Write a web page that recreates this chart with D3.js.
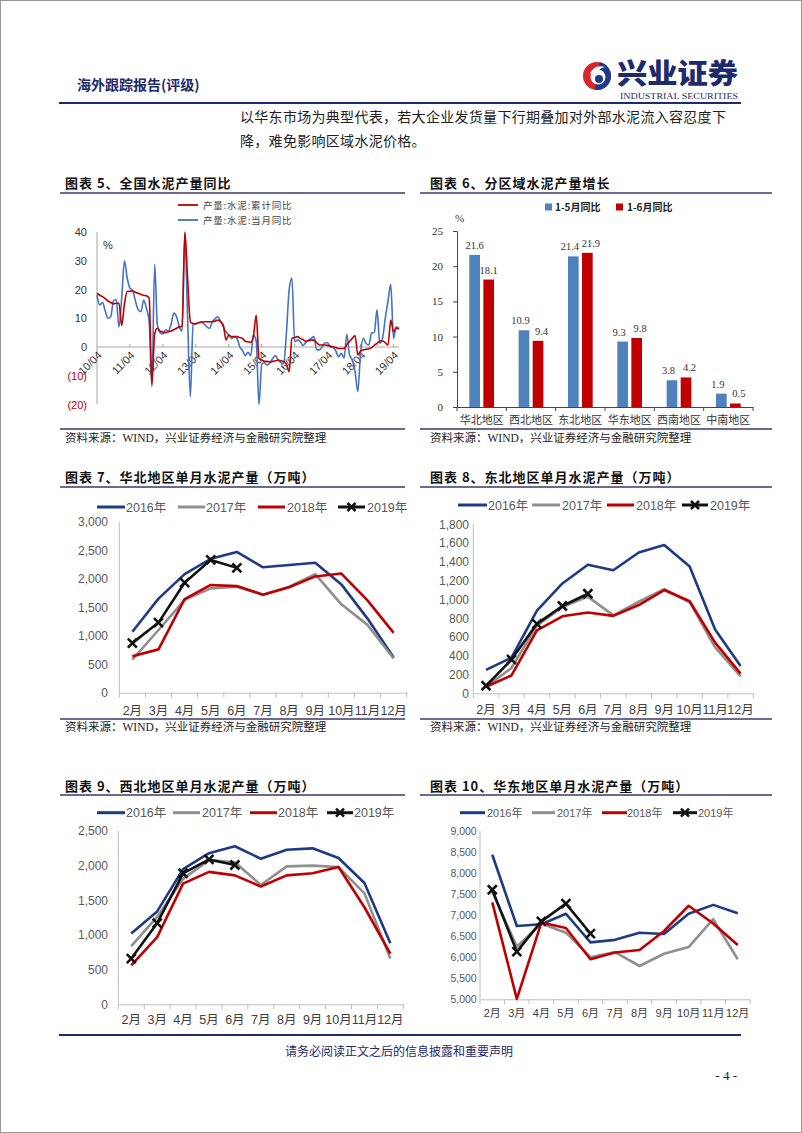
<!DOCTYPE html>
<html><head><meta charset="utf-8">
<script src="https://cdn.jsdelivr.net/npm/d3@7"></script>
<style>body{margin:0;background:#fff} svg{display:block}</style>
</head><body>
<svg id="page" width="802" height="1133"></svg>
<script>
// ---------------- DATA ----------------
// Chart 5: national cement output YoY (%), monthly 2010/04 .. 2019/06
const natTickLabels = ["10/04","11/04","12/04","13/04","14/04","15/04","16/04","17/04","18/04","19/04"];
const natSeriesNames = ["产量:水泥:累计同比","产量:水泥:当月同比"];
const natCum = [18.7,18,17.5,16.8,16,15.5,15,15.2,15.2,7.5,15,19.3,19.4,19.5,19,18.7,18.3,18,17.8,17,
  -13,4.5,6.5,5.5,5.2,5,5.3,5.6,6,6.5,7,7.2,40,24,8.8,8.2,8,8.4,8.6,8.8,
  8.8,8.8,8.8,9,9.4,8.8,7.6,2.4,4.2,3.6,3.6,3.6,3.3,3,2,1.8,1.6,4,11,-4,
  -4.5,-5,-5,-5.2,-5,-4.8,-4.5,-4.8,-5,-6,-8.6,3,3.3,3.6,3,2.6,2,2.2,2.4,2.4,
  1.5,0.7,0.7,0.7,0.5,0.3,0.1,-0.2,-0.5,-0.5,-0.5,0.8,1.9,3,4,-2.8,-1.4,-1,-0.8,-0.6,
  -0.2,0.6,1.3,2.1,2.1,1.5,0.7,9.4,5.3,6.5,6.3];
const natMonth = [18,14.6,15.5,12.5,10,10.5,16,16.5,7,17,30,24,20.5,19.7,16,13,12.3,16.3,13.5,8.8,
  -13.8,28.8,7.6,5,4.5,6,5.5,8,11.8,10.5,7,5.5,39.5,10,-17.3,7.8,8.2,8.5,8.8,8,
  7,6.5,8.8,9.8,10.5,9,7,5.3,4.2,3,3.5,3,0,-1.2,-3,-1.8,-3,4.2,2,-20,
  -6,-5.5,-6.3,-5.5,-4,-3,-4.5,-5.5,-5.7,5,20,24,1.9,2.4,1.9,0.5,1.5,2.4,3,3.6,
  -1,-1,0,1.5,1.5,0,-0.2,-1.4,-3.4,-2.2,-3.9,4.4,-2.8,-4.5,-8.6,-15.5,-2,3,1.2,0.7,
  4.8,5.1,12.9,1.3,3,10,16,21.8,3,7,6.5];
const natYTicks = [-20,-10,0,10,20,30,40];

// Chart 6: regional output growth (%)
const regions = ["华北地区","西北地区","东北地区","华东地区","西南地区","中南地区"];
const regionSeries = ["1-5月同比","1-6月同比"];
const growth15 = [21.6,10.9,21.4,9.3,3.8,1.9];
const growth16 = [18.1,9.4,21.9,9.8,4.2,0.5];
const growthTicks = [0,5,10,15,20,25];

// Charts 7-10: monthly output (10k tons)
const monthLabels = ["2月","3月","4月","5月","6月","7月","8月","9月","10月","11月","12月"];
const yearLabels = ["2016年","2017年","2018年","2019年"];
const hb2016 = [1070,1650,2080,2350,2470,2200,2240,2280,1900,1300,620];
const hb2017 = [580,1100,1630,1830,1860,1720,1860,2080,1550,1190,600];
const hb2018 = [640,760,1640,1890,1870,1720,1850,2040,2090,1620,1050];
const hb2019 = [870,1230,1930,2330,2190];
const db2016 = [250,380,880,1170,1370,1310,1500,1580,1350,680,290];
const db2017 = [70,270,720,920,1030,830,975,1110,970,490,180];
const db2018 = [70,190,670,820,860,825,940,1100,980,540,210];
const db2019 = [80,360,740,930,1060];
const xb2016 = [1020,1340,1950,2180,2280,2100,2230,2250,2110,1750,880];
const xb2017 = [840,1260,1810,2080,2050,1720,1990,2000,1980,1600,660];
const xb2018 = [560,970,1740,1910,1860,1700,1860,1890,1980,1400,730];
const xb2019 = [660,1170,1890,2090,2010];
const hd2016 = [8430,6740,6780,7030,6350,6410,6580,6550,7030,7240,7040];
const hd2017 = [7550,6250,6800,6580,6000,6120,5790,6080,6240,6900,5950];
const hd2018 = [7300,5010,6820,6690,5950,6110,6170,6620,7220,6800,6290];
const hd2019 = [7600,6130,6850,7270,6560];

// ---------------- DRAWING ----------------
const svg = d3.select("#page");
const NAVY = "#1d2a6b";
const SANS = "'Liberation Sans','Noto Sans CJK SC',sans-serif";
const CJK = "'Noto Sans CJK SC',sans-serif";
const SERIF = "'Liberation Serif','Noto Sans CJK SC',serif";
const yearColors = ["#1f3a85","#8f8f8f","#c00000","#111111"];

// page frame
svg.append("rect").attr("x",0.5).attr("y",0.5).attr("width",801).attr("height",1132)
  .attr("fill","none").attr("stroke","#9a9a9a");

// header
svg.append("text").attr("x",77).attr("y",90).attr("font-family",CJK).attr("font-size",14)
  .attr("font-weight","bold").attr("fill",NAVY).text("海外跟踪报告(评级)");
// logo emblem
const lg = svg.append("g").attr("transform","translate(597,76)");
lg.append("circle").attr("r",14).attr("fill","#d7262e");
lg.append("path").attr("d",d3.arc()({innerRadius:0,outerRadius:14,startAngle:0.2,endAngle:3.3})).attr("fill","#1e3a8c");
lg.append("circle").attr("cx",1).attr("cy",1).attr("r",7.5).attr("fill","#fff");
lg.append("circle").attr("cx",2).attr("cy",3).attr("r",4).attr("fill","#1e3a8c");
lg.append("path").attr("d","M-7,-2 Q-3,-12 8,-9 Q0,-7 -2,0 Z").attr("fill","#fff");
svg.append("text").attr("x",617).attr("y",84).attr("font-family",CJK).attr("font-size",28)
  .attr("font-weight",900).attr("fill",NAVY).attr("textLength",121).attr("lengthAdjust","spacingAndGlyphs").text("兴业证券");
svg.append("text").attr("x",620).attr("y",99).attr("font-family",SERIF).attr("font-size",8)
  .attr("fill",NAVY).attr("textLength",118).attr("lengthAdjust","spacingAndGlyphs").text("INDUSTRIAL SECURITIES");
svg.append("line").attr("x1",59).attr("x2",741).attr("y1",103).attr("y2",103).attr("stroke",NAVY).attr("stroke-width",2);

// body text
svg.append("text").attr("x",240).attr("y",122).attr("font-family",CJK).attr("font-size",14)
  .attr("letter-spacing",0.3).attr("fill","#222").text("以华东市场为典型代表，若大企业发货量下行期叠加对外部水泥流入容忍度下");
svg.append("text").attr("x",240).attr("y",146).attr("font-family",CJK).attr("font-size",14)
  .attr("letter-spacing",0.3).attr("fill","#222").text("降，难免影响区域水泥价格。");

// footer
svg.append("line").attr("x1",59).attr("x2",741).attr("y1",1035).attr("y2",1035).attr("stroke",NAVY).attr("stroke-width",2);
svg.append("text").attr("x",399).attr("y",1056).attr("text-anchor","middle").attr("font-family",CJK)
  .attr("font-size",12).attr("fill",NAVY).text("请务必阅读正文之后的信息披露和重要声明");
svg.append("text").attr("x",737).attr("y",1080).attr("text-anchor","end").attr("font-family",SERIF)
  .attr("font-size",13).attr("fill","#222").text("- 4 -");

// panel helpers
function title(x, y, txt){
  svg.append("text").attr("x",x).attr("y",y).attr("font-family",CJK).attr("font-size",13)
    .attr("font-weight","bold").attr("letter-spacing",1).attr("fill","#111").text(txt);
}
function rule(x1,x2,y){
  svg.append("line").attr("x1",x1).attr("x2",x2).attr("y1",y).attr("y2",y).attr("stroke","#3a3a68").attr("stroke-width",1.5);
}
function source(x,y){
  svg.append("text").attr("x",x).attr("y",y).attr("font-family",SERIF).attr("font-size",11.5)
    .attr("fill","#222").text("资料来源：WIND，兴业证券经济与金融研究院整理");
}

// ---- Chart 5 ----
title(65,188,"图表 5、全国水泥产量同比"); rule(60,405,193);
rule(60,405,429); source(65,442);
{
  const g = svg.append("g");
  const x = d3.scaleLinear().domain([0,natMonth.length-1]).range([97,399]);
  const y = d3.scaleLinear().domain([-20,40]).range([404.5,232]);
  const ya = d3.axisLeft(y).tickValues(natYTicks).tickSize(0).tickPadding(10)
    .tickFormat(v => v<0 ? "("+(-v)+")" : String(v));
  const yg = g.append("g").attr("transform","translate(97,0)").call(ya);
  yg.select(".domain").remove();
  yg.selectAll("text").attr("font-family",SANS).attr("font-size",11)
    .attr("fill",d => d<0 ? "#c00000" : "#333");
  g.append("line").attr("x1",97).attr("x2",97).attr("y1",232).attr("y2",404.5).attr("stroke","#a6a6a6");
  g.append("line").attr("x1",97).attr("x2",399).attr("y1",y(0)).attr("y2",y(0)).attr("stroke","#a6a6a6");
  const tickIdx = natTickLabels.map((d,i)=>i*12);
  const xa = d3.axisBottom(x).tickValues(tickIdx).tickSize(0).tickFormat((d,i)=>natTickLabels[i]);
  const xg = g.append("g").attr("transform",`translate(0,${y(0)})`).call(xa);
  xg.select(".domain").remove();
  xg.selectAll("text").attr("font-family",SANS).attr("font-size",11).attr("fill","#333")
    .attr("text-anchor","end").attr("dy",0).attr("y",0)
    .attr("transform","translate(5,9) rotate(-45)");
  g.selectAll(".ytk").data(tickIdx.slice(1)).enter().append("line")
    .attr("x1",d=>x(d)).attr("x2",d=>x(d)).attr("y1",y(0)).attr("y2",y(0)-3).attr("stroke","#a6a6a6");
  g.append("text").attr("x",103).attr("y",249).attr("font-family",SANS).attr("font-size",11).attr("fill","#333").text("%");
  const line = d3.line().x((d,i)=>x(i)).y(d=>y(d)).curve(d3.curveMonotoneX);
  g.append("path").datum(natMonth).attr("d",line).attr("fill","none").attr("stroke","#4472c4").attr("stroke-width",1.6);
  g.append("path").datum(natCum).attr("d",line).attr("fill","none").attr("stroke","#c00000").attr("stroke-width",1.6);
  [["#c00000",205],["#4472c4",220]].forEach((c,i)=>{
    g.append("line").attr("x1",178).attr("x2",198).attr("y1",c[1]).attr("y2",c[1]).attr("stroke",c[0]).attr("stroke-width",1.8);
    g.append("text").attr("x",203).attr("y",c[1]+3.5).attr("font-family",CJK).attr("font-size",9.5)
      .attr("letter-spacing",0.8).attr("fill","#444").text(natSeriesNames[i]);
  });
}

// ---- Chart 6 ----
title(430,188,"图表 6、分区域水泥产量增长"); rule(420,772,193);
rule(420,772,429); source(430,442);
{
  const g = svg.append("g");
  const x = d3.scaleBand().domain(regions).range([457,753]);
  const bw = x.bandwidth();
  const x1 = d3.scaleBand().domain(regionSeries).range([bw/2-12.35,bw/2+12.35]).paddingInner(0.24);
  const y = d3.scaleLinear().domain([0,25]).range([407,231]);
  const ya = d3.axisLeft(y).tickValues(growthTicks).tickSize(4).tickPadding(10);
  const yg = g.append("g").attr("transform","translate(457,0)").call(ya);
  yg.select(".domain").attr("stroke","#444");
  yg.selectAll(".tick line").attr("stroke","#444");
  yg.selectAll("text").attr("font-family",SERIF).attr("font-size",11).attr("fill","#333");
  const xa = d3.axisBottom(x).tickSize(0).tickPadding(9);
  const xg = g.append("g").attr("transform","translate(0,407)").call(xa);
  xg.select(".domain").attr("stroke","#444");
  xg.selectAll("text").attr("font-family",CJK).attr("font-size",11).attr("fill","#333");
  g.selectAll(".ctk").data(d3.range(regions.length+1)).enter().append("line")
    .attr("x1",d=>457+d*x.step()).attr("x2",d=>457+d*x.step()).attr("y1",407).attr("y2",411).attr("stroke","#444");
  const sets = [[growth15,"#4f81bd"],[growth16,"#c00000"]];
  const lab = regions.map((r,i)=>{
    const bx = x(r)+x1(regionSeries[0])+x1.bandwidth()/2;
    const rx = x(r)+x1(regionSeries[1])+x1.bandwidth()/2;
    const by = y(growth15[i])-6, ry = y(growth16[i])-6;
    let shift = 0;
    if (Math.abs(by-ry) < 11 && rx-bx < 21) shift = (21-(rx-bx))/2;
    return [[bx-shift,by],[rx+shift,ry]];
  });
  sets.forEach((s,si)=>{
    g.selectAll(".b"+si).data(s[0]).enter().append("rect")
      .attr("x",(d,i)=>x(regions[i])+x1(regionSeries[si])).attr("width",x1.bandwidth())
      .attr("y",d=>y(d)).attr("height",d=>407-y(d)).attr("fill",s[1]);
    g.selectAll(".l"+si).data(s[0]).enter().append("text")
      .attr("x",(d,i)=>lab[i][si][0]).attr("y",(d,i)=>lab[i][si][1])
      .attr("text-anchor","middle").attr("font-family",SERIF).attr("font-size",10.5)
      .attr("fill","#333").text(d=>d.toFixed(1));
  });
  g.append("text").attr("x",455).attr("y",222).attr("font-family",SERIF).attr("font-size",11).attr("fill","#444").text("%");
  [[545,"#4f81bd",555],[616,"#c00000",627]].forEach((c,i)=>{
    g.append("rect").attr("x",c[0]).attr("y",203.5).attr("width",7).attr("height",7).attr("fill",c[1]);
    g.append("text").attr("x",c[2]).attr("y",211).attr("font-family",CJK).attr("font-size",10)
      .attr("font-weight","bold").attr("fill","#222").text(regionSeries[i]);
  });
}

// ---- Line charts 7-10 ----
function lineChart(cfg){
  const g = svg.append("g");
  const x = d3.scaleBand().domain(monthLabels).range([cfg.x0,cfg.x1]);
  const y = d3.scaleLinear().domain(cfg.domain).range([cfg.yBot,cfg.yTop]);
  const ticks = d3.range(cfg.domain[0],cfg.domain[1]+1,cfg.step);
  const ya = d3.axisLeft(y).tickValues(ticks).tickSize(0).tickPadding(cfg.x0-cfg.labelX).tickFormat(d3.format(","));
  const yg = g.append("g").attr("transform",`translate(${cfg.x0},0)`).call(ya);
  yg.select(".domain").remove();
  yg.selectAll("text").attr("font-family",SANS).attr("font-size",cfg.fs).attr("fill","#595959");
  g.append("line").attr("x1",cfg.x0).attr("x2",cfg.x0).attr("y1",cfg.yTop).attr("y2",cfg.yBot).attr("stroke","#bfbfbf");
  const xa = d3.axisBottom(x).tickSize(0).tickPadding(cfg.mPad);
  const xg = g.append("g").attr("transform",`translate(0,${cfg.yBot})`).call(xa);
  xg.select(".domain").attr("stroke","#bfbfbf");
  xg.selectAll("text").attr("font-family",SANS).attr("font-size",cfg.fs+0.5).attr("fill","#404040");
  g.selectAll(".mtk").data(d3.range(monthLabels.length+1)).enter().append("line")
    .attr("x1",d=>cfg.x0+d*x.step()).attr("x2",d=>cfg.x0+d*x.step())
    .attr("y1",cfg.yBot).attr("y2",cfg.yBot+5).attr("stroke","#bfbfbf");
  const line = d3.line().x((d,i)=>x(monthLabels[i])+x.bandwidth()/2).y(d=>y(d));
  cfg.series.forEach((s,si)=>{
    g.append("path").datum(s).attr("d",line).attr("fill","none").attr("stroke",yearColors[si])
      .attr("stroke-width",2.6).attr("stroke-linejoin","round");
  });
  const last = cfg.series[3];
  g.selectAll(".mk").data(last).enter().append("path")
    .attr("transform",(d,i)=>`translate(${x(monthLabels[i])+x.bandwidth()/2},${y(d)})`)
    .attr("d","M-4.5,-4.5L4.5,4.5M-4.5,4.5L4.5,-4.5").attr("stroke","#111").attr("stroke-width",2.6);
  cfg.legend.items.forEach((it,i)=>{
    g.append("line").attr("x1",it[0]).attr("x2",it[1]).attr("y1",cfg.legend.y).attr("y2",cfg.legend.y)
      .attr("stroke",yearColors[i]).attr("stroke-width",3);
    if(i===3){
      g.append("path").attr("transform",`translate(${(it[0]+it[1])/2},${cfg.legend.y})`)
        .attr("d","M-4,-4L4,4M-4,4L4,-4").attr("stroke","#111").attr("stroke-width",2.5);
    }
    g.append("text").attr("x",it[2]).attr("y",cfg.legend.y+4.5).attr("font-family",SANS)
      .attr("font-size",cfg.lfs).attr("fill","#595959").text(yearLabels[i]);
  });
}

title(65,482,"图表 7、华北地区单月水泥产量（万吨）"); rule(60,405,487);
rule(60,405,719); source(65,731);
lineChart({x0:119.3,x1:406.7,yTop:521.7,yBot:692.7,domain:[0,3000],step:500,labelX:108,fs:12,mPad:13,lfs:12.5,
  series:[hb2016,hb2017,hb2018,hb2019],
  legend:{y:507,items:[[97,125,126],[178,205,206],[258,285,287],[338,365,367]]}});

title(430,482,"图表 8、东北地区单月水泥产量（万吨）"); rule(420,772,487);
rule(420,772,719); source(430,731);
lineChart({x0:473.3,x1:753.3,yTop:524.3,yBot:693.3,domain:[0,1800],step:200,labelX:469,fs:12,mPad:12,lfs:12.5,
  series:[db2016,db2017,db2018,db2019],
  legend:{y:505,items:[[458,487,488],[532,560,562],[607,634,636],[682,708,710]]}});

title(65,791,"图表 9、西北地区单月水泥产量（万吨）"); rule(60,405,795);
lineChart({x0:118.3,x1:403.3,yTop:831,yBot:1004.3,domain:[0,2500],step:500,labelX:108,fs:12,mPad:11,lfs:12.5,
  series:[xb2016,xb2017,xb2018,xb2019],
  legend:{y:812.7,items:[[97,125,126],[173,200,202],[250,277,278],[327,353,354]]}});

title(430,791,"图表 10、华东地区单月水泥产量（万吨）"); rule(420,772,795);
lineChart({x0:480,x1:750,yTop:830.7,yBot:999.3,domain:[5000,9000],step:500,labelX:476.7,fs:10.5,mPad:10,lfs:11,
  series:[hd2016,hd2017,hd2018,hd2019],
  legend:{y:812.7,items:[[460,485,487],[532,555,557],[602,627,627],[673,697,698]]}});
</script>
</body></html>
